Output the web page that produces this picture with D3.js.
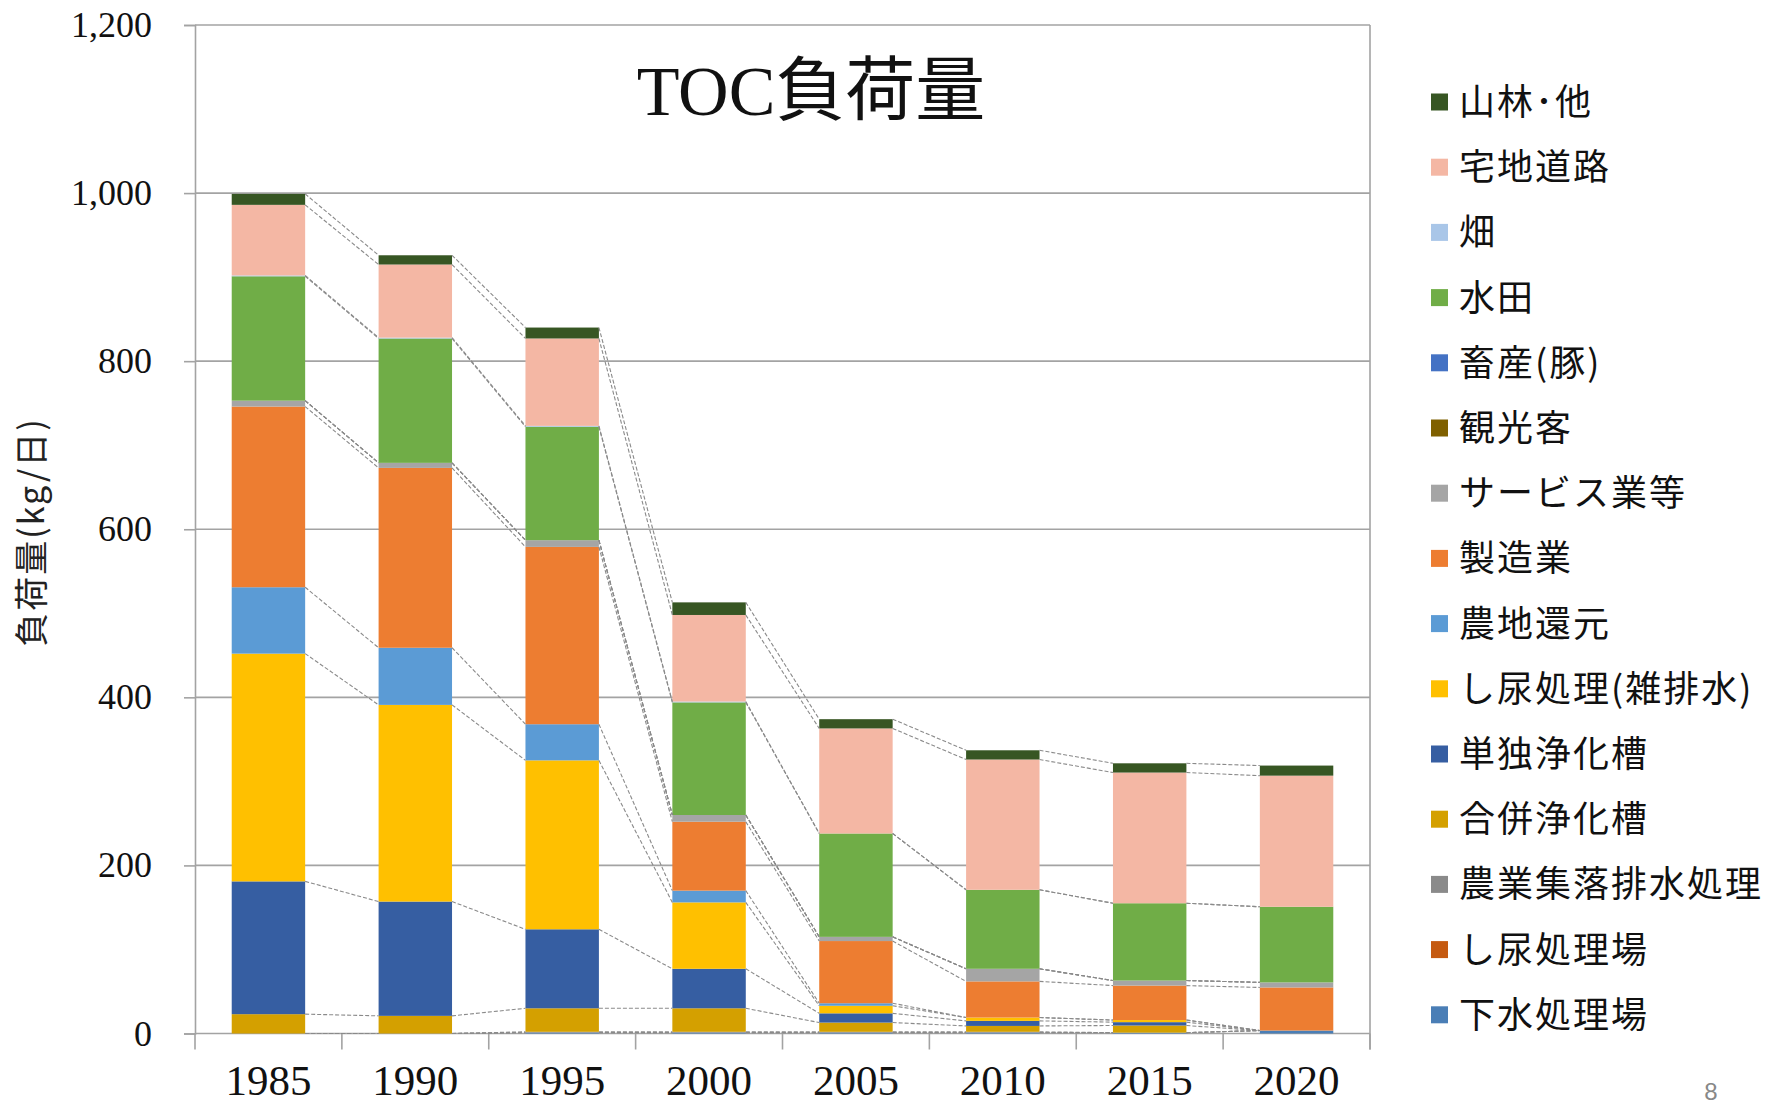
<!DOCTYPE html>
<html><head><meta charset="utf-8">
<script src="https://cdn.jsdelivr.net/npm/d3@7"></script>
<style>body{margin:0;background:#fff}svg{display:block}</style>
</head><body>
<svg id="c" width="1777" height="1106"></svg>
<script>
const years = ["1985","1990","1995","2000","2005","2010","2015","2020"];
const yTicks = [0,200,400,600,800,1000,1200];
// series, bottom to top of the stack
const seriesNames = ["下水処理場","し尿処理場","農業集落排水処理","合併浄化槽","単独浄化槽","し尿処理(雑排水)","農地還元","製造業","サービス業等","観光客","畜産(豚)","水田","畑","宅地道路","山林･他"];
const seriesColors = ["#4a7eb6","#c55a11","#8a8a8a","#d4a000","#365ea2","#ffc000","#5b9bd5","#ed7d31","#a5a5a5","#7f6000","#4472c4","#70ad47","#a9c6e8","#f4b7a4","#375623"];
const gesui      = [0,0,1,1,1,1,1,3.5];
const shinyoJo   = [0,0,0,0,0,0,0,0];
const noshu      = [0,0,1,1,1,1,0,0];
const gappei     = [23,21,28,28,11,7,8.5,0];
const tandoku    = [158,136,94,47,11,6,4,0];
const shinyoZatsu= [271,234,201,79,9,4,2.5,0];
const nochi      = [79,68,43,14,3,0,0,0];
const seizo      = [215,214,211,82,74,43,41,51.3];
const service    = [7,6,8,8,5,15,6,6];
const kanko      = [0,0,0,0,0,0,0,0];
const chikusan   = [0,0,0,0,0,0,0,0];
const suiden     = [148,148,135,134,123,94,92,90];
const hatake     = [1,1,1,1,0,0,0,0];
const takuchi    = [84,87,104,103,125,155,155.5,156];
const sanrin     = [13,11,13,15,11,11,11,12];
const seriesValues = [gesui,shinyoJo,noshu,gappei,tandoku,shinyoZatsu,nochi,seizo,service,kanko,chikusan,suiden,hatake,takuchi,sanrin];

const table = years.map((y,i)=>{const o={year:y}; seriesNames.forEach((s,k)=>o[s]=seriesValues[k][i]); return o;});
const stacked = d3.stack().keys(seriesNames)(table);

const svg = d3.select("#c");
svg.append("rect").attr("width",1777).attr("height",1106).attr("fill","#fff");
const L=195, R=1370, T=25, B=1033.5;
const x = d3.scaleBand().domain(years).range([L,R]).padding(0);
const y = d3.scaleLinear().domain([0,1200]).range([B,T]);
const bw = x.bandwidth()*0.5, off = x.bandwidth()*0.25;
const grid="#a3a3a3";

// gridlines
svg.append("g").selectAll("line").data(yTicks).join("line")
  .attr("x1",L).attr("x2",R).attr("y1",d=>y(d)).attr("y2",d=>y(d))
  .attr("stroke",grid).attr("stroke-width",1.6);
// left axis with ticks
const yAxis = d3.axisLeft(y).tickValues(yTicks).tickSize(11).tickPadding(32).tickFormat(d3.format(","));
const gy = svg.append("g").attr("transform",`translate(${L},0)`).call(yAxis);
gy.select(".domain").attr("stroke",grid).attr("stroke-width",1.6);
gy.selectAll(".tick line").attr("stroke",grid).attr("stroke-width",1.6);
gy.selectAll("text").attr("font-family","'Liberation Serif',serif").attr("font-size",36).attr("fill","#111");
// right border
svg.append("line").attr("x1",R).attr("x2",R).attr("y1",T).attr("y2",B+16).attr("stroke",grid).attr("stroke-width",1.6);
// bottom axis
const xAxis = d3.axisBottom(x).tickSize(0).tickPadding(53);
const gx = svg.append("g").attr("transform",`translate(0,${B})`).call(xAxis);
gx.select(".domain").remove();
gx.selectAll("text").attr("font-family","'Liberation Serif',serif").attr("font-size",43).attr("fill","#111").attr("dy","0.2em");
const bounds = years.map(d=>x(d)).concat([R]);
svg.append("g").selectAll("line").data(bounds).join("line")
  .attr("x1",d=>d).attr("x2",d=>d).attr("y1",B).attr("y2",B+16).attr("stroke",grid).attr("stroke-width",1.6);

// bars
const layer = svg.append("g").selectAll("g").data(stacked).join("g").attr("fill",(d,i)=>seriesColors[i]);
layer.selectAll("rect").data(d=>d).join("rect")
  .attr("x",d=>x(d.data.year)+off).attr("width",bw)
  .attr("y",d=>y(d[1])).attr("height",d=>Math.max(0,y(d[0])-y(d[1])));

// series lines
const sl = svg.append("g").attr("stroke","#8a8a8a").attr("stroke-width",1.1).attr("stroke-dasharray","4,2").attr("fill","none");
stacked.forEach(s=>{
  for(let i=0;i<years.length-1;i++){
    sl.append("line")
      .attr("x1",x(years[i])+off+bw).attr("y1",y(s[i][1]))
      .attr("x2",x(years[i+1])+off).attr("y2",y(s[i+1][1]));
  }
});

// title
svg.append("text").attr("x",811).attr("y",115).attr("text-anchor","middle")
  .attr("font-family","'Liberation Serif','Noto Sans CJK JP',serif").attr("font-size",70).attr("fill","#111").text("TOC負荷量");
// y title
svg.append("text").attr("transform","translate(44,532) rotate(-90)").attr("text-anchor","middle")
  .attr("font-family","'Noto Sans CJK JP',sans-serif").attr("font-size",34).attr("letter-spacing",2).attr("fill","#222").text("負荷量(kg/日)");

// legend
const legendNames = seriesNames.slice().reverse();
const legendColors = seriesColors.slice().reverse();
const lg = svg.append("g").selectAll("g").data(legendNames).join("g")
  .attr("transform",(d,i)=>`translate(1431,${102+i*65.2})`);
lg.append("rect").attr("x",0).attr("y",-8.5).attr("width",17).attr("height",17).attr("fill",(d,i)=>legendColors[i]);
lg.append("text").attr("x",28).attr("y",0).attr("dy","0.36em")
  .attr("font-family","'Noto Sans CJK JP',sans-serif").attr("font-size",36).attr("letter-spacing",2).attr("fill","#111").text(d=>d);

// page number
svg.append("text").attr("x",1711).attr("y",1100).attr("text-anchor","middle")
  .attr("font-family","'Liberation Sans',sans-serif").attr("font-size",24).attr("fill","#888").text("8");
</script>
</body></html>
